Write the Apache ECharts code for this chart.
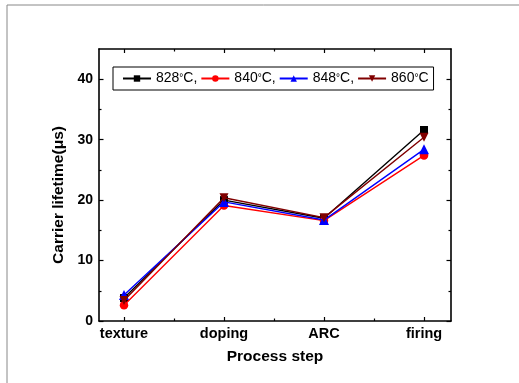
<!DOCTYPE html>
<html><head><meta charset="utf-8">
<script src="https://cdn.jsdelivr.net/npm/echarts@6/dist/echarts.min.js"></script>
<style>html,body{margin:0;padding:0;background:#fff}#c{width:519px;height:383px}</style>
</head><body><div id="c"></div>
<script>
const categories = ['texture', 'doping', 'ARC', 'firing'];
const seriesNames = ['828', '840', '848', '860'];
const s828 = [3.8, 20.0, 17.0, 31.6];
const s840 = [2.6, 19.1, 16.6, 27.4];
const s848 = [4.3, 19.7, 16.7, 28.4];
const s860 = [3.4, 20.4, 17.1, 30.4];
const yTicks = [0, 10, 20, 30, 40];
const yMinor = [5, 15, 25, 35];
const xTicks = [0, 1, 2, 3];
const xMinor = [0.5, 1.5, 2.5];

const values = [s828, s840, s848, s860];
const colors = ['#000000', '#ff0000', '#0000ff', '#800000'];
const symbols = ['rect', 'circle', 'triangle', 'path://M0,0 L10,0 L5,10 Z'];
const sizes = [8, 8.5, 10, 9];

const chart = echarts.init(document.getElementById('c'));
const font = 'Liberation Sans, Arial, sans-serif';
const axLine = {show: true, onZero: false, lineStyle: {color: '#000', width: 1.6}};
const noLine = {show: false, onZero: false};
function xAx(pos, vals, len, main, labels) {
  return {
    type: 'value', position: pos, min: -0.25, max: 3.27,
    axisLine: main ? axLine : noLine,
    splitLine: {show: false},
    axisTick: {show: true, inside: true, length: len, customValues: vals, lineStyle: {color: '#000', width: 1.2}},
    axisLabel: labels ? {show: true, customValues: xTicks, formatter: v => categories[Math.round(v)],
      fontFamily: font, fontWeight: 'bold', fontSize: 14.5, color: '#000', margin: 5} : {show: false},
    name: labels ? 'Process step' : '', nameLocation: 'middle', nameGap: 28,
    nameTextStyle: {fontFamily: font, fontWeight: 'bold', fontSize: 15.5, color: '#000'}
  };
}
function yAx(pos, vals, len, main, labels) {
  return {
    type: 'value', position: pos, min: 0, max: 45,
    axisLine: main ? axLine : noLine,
    splitLine: {show: false},
    axisTick: {show: true, inside: true, length: len, customValues: vals, lineStyle: {color: '#000', width: 1.2}},
    axisLabel: labels ? {show: true, customValues: yTicks, fontFamily: font, fontWeight: 'bold', fontSize: 14, color: '#000', margin: 6} : {show: false},
    name: labels ? 'Carrier lifetime(μs)' : '', nameLocation: 'middle', nameGap: 28,
    nameTextStyle: {fontFamily: font, fontWeight: 'bold', fontSize: 15.5, color: '#000', padding: [0, 20, 0, 0]}
  };
}

chart.setOption({
  animation: false,
  graphic: [{type: 'rect', shape: {x: 7, y: 5, width: 600, height: 500}, style: {fill: 'none', stroke: '#888', lineWidth: 1}}],
  grid: {left: 99, right: 68, top: 49, bottom: 62},
  legend: {
    left: 113, top: 67, orient: 'horizontal',
    borderColor: '#000', borderWidth: 1, padding: [3, 5, 3, 9],
    itemGap: 3, itemWidth: 28, itemHeight: 8,
    data: seriesNames,
    formatter: function (name) { return name + '{d|°}C' + (name === '860' ? '' : ','); },
    textStyle: {fontFamily: font, fontSize: 14, lineHeight: 17, color: '#000', rich: {d: {fontFamily: font, fontSize: 10, lineHeight: 17}}}
  },
  xAxis: [
    xAx('bottom', xTicks, 4, true, true),
    xAx('bottom', xMinor, 2.5, false, false),
    xAx('top', xTicks, 4, true, false),
    xAx('top', xMinor, 2.5, false, false)
  ],
  yAxis: [
    yAx('left', yTicks, 4.5, true, true),
    yAx('left', yMinor, 2.5, false, false),
    yAx('right', yTicks, 4.5, true, false),
    yAx('right', yMinor, 2.5, false, false)
  ],
  series: seriesNames.map((n, i) => ({
    name: n, type: 'line', xAxisIndex: 0, yAxisIndex: 0,
    data: values[i].map((v, j) => [j, v]),
    symbol: symbols[i], symbolSize: sizes[i],
    lineStyle: {color: colors[i], width: 1.4},
    itemStyle: {color: colors[i]},
    z: 2 + i
  }))
});
</script></body></html>
